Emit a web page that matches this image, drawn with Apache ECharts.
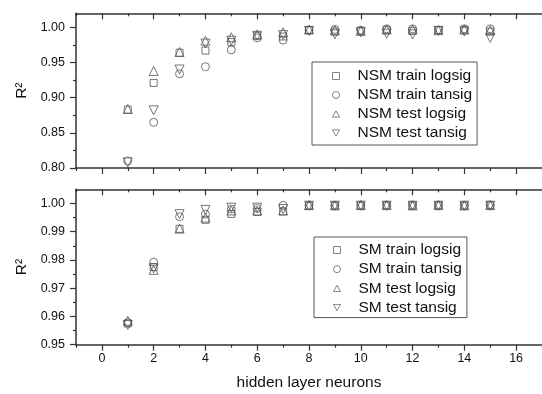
<!DOCTYPE html>
<html><head><meta charset="utf-8">
<script src="https://cdn.jsdelivr.net/npm/echarts@6/dist/echarts.min.js"></script>
<style>html,body{margin:0;padding:0;background:#fff}#c{width:542px;height:394px}</style>
</head><body><div id="c"></div>
<script>
const neurons = [1,2,3,4,5,6,7,8,9,10,11,12,13,14,15];

const nsmTrainLogsig = [0.883,0.921,0.964,0.967,0.979,0.988,0.987,0.996,0.994,0.995,0.996,0.995,0.996,0.996,0.994];
const nsmTrainTansig = [0.810,0.865,0.934,0.944,0.968,0.985,0.982,0.996,0.997,0.996,0.998,0.998,0.996,0.998,0.998];
const nsmTestLogsig  = [0.884,0.938,0.965,0.981,0.986,0.990,0.993,0.997,0.996,0.995,0.997,0.997,0.996,0.997,0.996];
const nsmTestTansig  = [0.808,0.882,0.940,0.977,0.981,0.988,0.989,0.995,0.990,0.993,0.991,0.990,0.995,0.994,0.985];

const smTrainLogsig = [0.9575,0.9775,0.9910,0.9942,0.9963,0.9970,0.9972,0.9991,0.9992,0.9992,0.9993,0.9992,0.9993,0.9992,0.9993];
const smTrainTansig = [0.9578,0.9792,0.9953,0.9962,0.9980,0.9982,0.9993,0.9993,0.9993,0.9994,0.9993,0.9994,0.9993,0.9993,0.9994];
const smTestLogsig  = [0.9585,0.9765,0.9911,0.9950,0.9975,0.9975,0.9975,0.9994,0.9993,0.9994,0.9994,0.9993,0.9994,0.9993,0.9994];
const smTestTansig  = [0.9570,0.9770,0.9962,0.9977,0.9985,0.9985,0.9980,0.9992,0.9992,0.9992,0.9992,0.9992,0.9992,0.9992,0.9992];

const xMajorTicks = [0,2,4,6,8,10,12,14,16];
const xMinorTicks = [-1,1,3,5,7,9,11,13,15,17];
const yTopMajor = [0.80,0.85,0.90,0.95,1.00];
const yTopMinor = [0.825,0.875,0.925,0.975];
const yBotMajor = [0.95,0.96,0.97,0.98,0.99,1.00];
const yBotMinor = [0.955,0.965,0.975,0.985,0.995];

const nsmNames = ['NSM train logsig','NSM train tansig','NSM test logsig','NSM test tansig'];
const smNames = ['SM train logsig','SM train tansig','SM test logsig','SM test tansig'];

const AX = '#333';
const FONT = 'Liberation Sans, Arial, sans-serif';

function xAx(grid, pos, major, inside, labels) {
  return {
    type: 'value', gridIndex: grid, position: pos, min: -1, max: 17,
    axisLine: { show: major, onZero: false, lineStyle: { color: AX, width: 1.5 } },
    axisTick: { show: true, inside: inside, length: major ? 6 : 3, customValues: major ? xMajorTicks : xMinorTicks, lineStyle: { color: AX, width: 1.2 } },
    axisLabel: labels ? { show: true, customValues: xMajorTicks, fontSize: 12.5, color: '#111', fontFamily: FONT, margin: 7 } : { show: false },
    splitLine: { show: false },
    name: labels ? 'hidden layer neurons' : '',
    nameLocation: 'middle', nameGap: 30,
    nameTextStyle: { fontSize: 15.5, color: '#111', fontFamily: FONT }
  };
}
function yAx(grid, min, max, major, ticks) {
  return {
    type: 'value', gridIndex: grid, position: 'left', min: min, max: max,
    axisLine: { show: major, onZero: false, lineStyle: { color: AX, width: 1.5 } },
    axisTick: { show: true, inside: false, length: major ? 6 : 3, customValues: ticks, lineStyle: { color: AX, width: 1.2 } },
    axisLabel: major ? { show: true, customValues: ticks, fontSize: 12.5, color: '#111', fontFamily: FONT, margin: 11, formatter: v => v.toFixed(2) } : { show: false },
    splitLine: { show: false },
    name: major ? 'R²' : '',
    nameLocation: 'middle', nameGap: 45,
    nameTextStyle: { fontSize: 15.5, color: '#111', fontFamily: FONT }
  };
}

const symDefs = [
  { symbol: 'rect', size: 7, rot: 0, icon: 'rect' },
  { symbol: 'circle', size: 8, rot: 0, icon: 'circle' },
  { symbol: 'triangle', size: 9, rot: 0, icon: 'path://M5,0 L10,9 L0,9 Z' },
  { symbol: 'triangle', size: 9, rot: 180, icon: 'path://M0,0 L10,0 L5,9 Z' }
];
function ser(name, vals, xi, yi, k) {
  return {
    type: 'scatter', name: name, xAxisIndex: xi, yAxisIndex: yi,
    symbol: symDefs[k].symbol, symbolSize: symDefs[k].size, symbolRotate: symDefs[k].rot,
    itemStyle: { color: 'rgba(255,255,255,0)', borderColor: '#555', borderWidth: 1 },
    data: neurons.map((n, i) => [n, vals[i]]),
    emphasis: { disabled: true }, silent: true, animation: false
  };
}
function leg(names, left, top, padding, gap) {
  return {
    data: names.map((n, k) => ({ name: n, icon: symDefs[k].icon })),
    orient: 'vertical', left: left, top: top,
    borderColor: '#555', borderWidth: 1, padding: padding, itemGap: gap,
    itemWidth: 7, itemHeight: 7, selectedMode: false, symbolKeepAspect: true,
    textStyle: { fontSize: 15.5, lineHeight: 18, color: '#111', fontFamily: FONT, padding: [0, 0, 0, 13] },
    itemStyle: { color: 'rgba(255,255,255,0)', borderColor: '#666', borderWidth: 1 }
  };
}

const chart = echarts.init(document.getElementById('c'), null, { renderer: 'canvas' });
chart.setOption({
  animation: false,
  backgroundColor: '#fff',
  grid: [
    { left: 76, top: 13.3, width: 474, height: 154.7 },
    { left: 76, top: 189.3, width: 474, height: 155.4 }
  ],
  xAxis: [
    xAx(0, 'bottom', true, false, false),
    xAx(0, 'bottom', false, false, false),
    xAx(0, 'top', true, true, false),
    xAx(0, 'top', false, true, false),
    xAx(1, 'bottom', true, false, true),
    xAx(1, 'bottom', false, false, false),
    xAx(1, 'top', true, true, false),
    xAx(1, 'top', false, true, false)
  ],
  yAxis: [
    yAx(0, 0.80, 1.02, true, yTopMajor),
    yAx(0, 0.80, 1.02, false, yTopMinor),
    yAx(1, 0.95, 1.005, true, yBotMajor),
    yAx(1, 0.95, 1.005, false, yBotMinor)
  ],
  legend: [
    leg(nsmNames, 312, 62, [5, 5, 3, 20], 1),
    leg(smNames, 314, 237, [4, 5, 1, 19], 1.2)
  ],
  series: [
    ser(nsmNames[0], nsmTrainLogsig, 0, 0, 0),
    ser(nsmNames[1], nsmTrainTansig, 0, 0, 1),
    ser(nsmNames[2], nsmTestLogsig, 0, 0, 2),
    ser(nsmNames[3], nsmTestTansig, 0, 0, 3),
    ser(smNames[0], smTrainLogsig, 4, 2, 0),
    ser(smNames[1], smTrainTansig, 4, 2, 1),
    ser(smNames[2], smTestLogsig, 4, 2, 2),
    ser(smNames[3], smTestTansig, 4, 2, 3)
  ]
});
</script></body></html>
